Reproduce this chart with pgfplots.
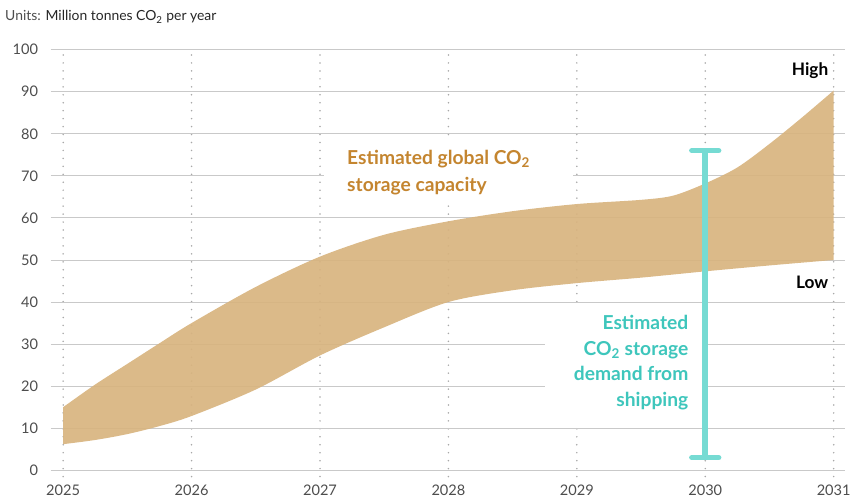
\documentclass[border=0pt]{standalone}
\usepackage{fontspec}
\setmainfont{Lato}
\usepackage{pgfplots}
\pgfplotsset{compat=1.18}
\usepgfplotslibrary{fillbetween}

\definecolor{bandfill}{HTML}{D8B47F}
\definecolor{bandtext}{HTML}{C4852F}
\definecolor{shipline}{HTML}{76DBD3}
\definecolor{shiptext}{HTML}{3EC6BC}
\definecolor{gridgray}{HTML}{C9C9C9}
\definecolor{dotgray}{HTML}{A8A8A8}
\definecolor{ticktext}{HTML}{4D4D4D}

% Global CO2 storage capacity range (Mt CO2 per year); t = years after 2025
\pgfplotstableread{
t    high
0    15
0.25 20.4
0.5  25.3
0.75 30.2
1    35
1.5  43.6
2    50.8
2.5  56
3    59.2
3.5  61.6
4    63.3
4.5  64.3
4.75 65.3
5    68.2
5.25 72
5.5  77.6
5.75 83.8
6    90.3
}\capHigh
\pgfplotstableread{
t    low
0    6.2
0.25 7.2
0.5  8.6
0.75 10.5
1    12.9
1.5  19.2
2    27.3
2.5  34
3    40
3.5  42.8
4    44.5
4.5  45.8
5    47.3
5.5  48.7
6    50
}\capLow

\begin{document}
\begin{tikzpicture}
\begin{axis}[
  at={(38.25pt,20pt)}, anchor=south west,
  scale only axis, width=599.25pt, height=322pt,
  xmin=-0.097, xmax=6.089, ymin=-1.5, ymax=100,
  xtick={0,...,6}, xticklabels={2025,2026,2027,2028,2029,2030,2031},
  ytick={0,10,...,100},
  xticklabel style={yshift=-3pt},
  yticklabel style={xshift=-6pt},
  /pgf/number format/assume math mode=true,
  ticklabel style={font=\fontsize{11}{13}\selectfont, text=ticktext},
  major tick length=0pt,
  axis line style={draw=none},
  xmajorgrids, ymajorgrids,
  y grid style={gridgray, line width=0.7pt},
  x grid style={dotgray, line width=1.3pt, line cap=round, dash pattern=on 0pt off 6pt},
  clip=false,
]
\addplot[draw=none, name path=hi, smooth] table[x=t, y=high] {\capHigh};
\addplot[draw=none, name path=lo, smooth] table[x=t, y=low] {\capLow};

% white panels behind the annotations
\fill[white] (axis cs:2.03,64.5) rectangle (axis cs:3.97,78.5);
\fill[white] (axis cs:3.75,11.5) rectangle (axis cs:4.99,39);

\addplot[bandfill, fill opacity=0.92] fill between[of=hi and lo];

% shipping demand range
\addplot[shipline, line width=4.6pt] coordinates {(5,3) (5,76)};
\addplot[shipline, line width=4pt, line cap=round] coordinates {(4.895,76) (5.105,76)};
\addplot[shipline, line width=4pt, line cap=round] coordinates {(4.895,3) (5.105,3)};

\node[anchor=west, align=left, text=bandtext, inner sep=0pt,
      font=\fontsize{14.5}{20.5}\selectfont\bfseries]
  at (axis cs:2.21,70.8) {Estimated global CO\textsubscript{2}\\storage capacity};
\node[anchor=east, align=right, text=shiptext, inner sep=0pt,
      font=\fontsize{14.5}{19.5}\selectfont\bfseries]
  at (axis cs:4.87,25.6) {Estimated\\CO\textsubscript{2} storage\\demand from\\shipping};
\node[anchor=east, inner sep=0pt, font=\fontsize{13}{15}\selectfont\bfseries]
  at (axis cs:5.96,95) {High};
\node[anchor=east, inner sep=0pt, font=\fontsize{13}{15}\selectfont\bfseries]
  at (axis cs:5.96,44.7) {Low};
\end{axis}
\node[anchor=west, inner sep=0pt, font=\fontsize{10.5}{12}\selectfont]
  at (3.75pt,366.75pt) {\textcolor{ticktext}{Units:} \textcolor{black!85}{Million tonnes CO\textsubscript{2} per year}};
\useasboundingbox (0,0) rectangle (641.25pt,379.5pt);
\end{tikzpicture}
\end{document}
